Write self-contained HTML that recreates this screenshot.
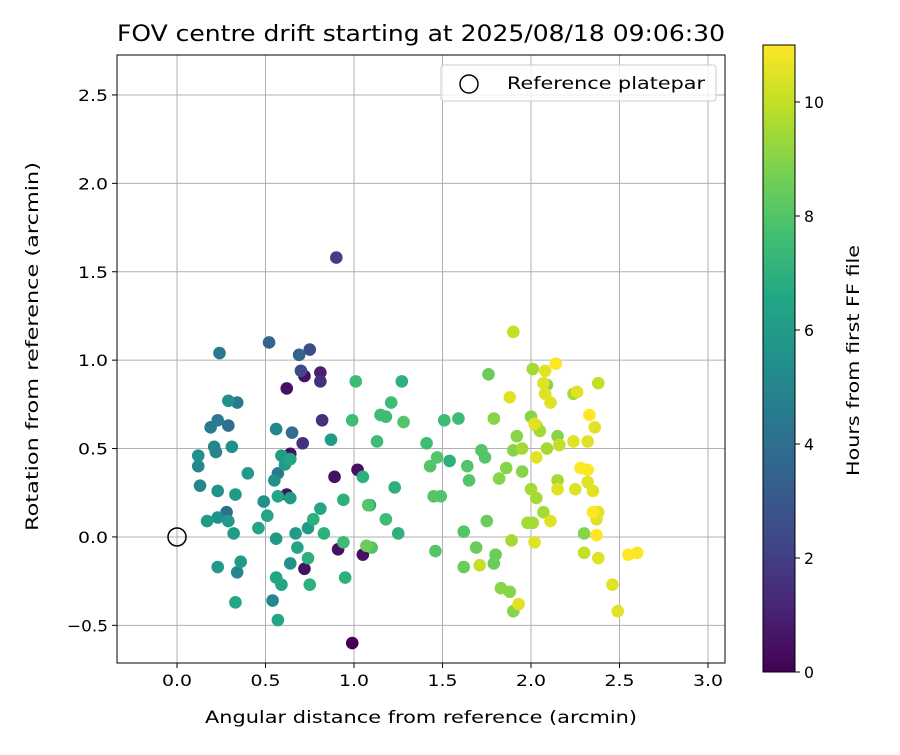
<!DOCTYPE html>
<html><head><meta charset="utf-8"><style>
body{margin:0;background:#fff;}
svg text{font-family:"DejaVu Sans","Liberation Sans",sans-serif;fill:#000;}
</style></head><body>
<svg id="chart" width="900" height="750" viewBox="0 0 900 750">
<defs>
<linearGradient id="vir" x1="0" y1="1" x2="0" y2="0">
<stop offset="0" stop-color="#440154"/><stop offset="0.1" stop-color="#482475"/><stop offset="0.2" stop-color="#414487"/><stop offset="0.3" stop-color="#355f8d"/><stop offset="0.4" stop-color="#2a788e"/><stop offset="0.5" stop-color="#21918c"/><stop offset="0.6" stop-color="#22a884"/><stop offset="0.7" stop-color="#44bf70"/><stop offset="0.8" stop-color="#7ad151"/><stop offset="0.9" stop-color="#bddf26"/><stop offset="1" stop-color="#fde725"/>
</linearGradient>
<clipPath id="pc"><rect x="117" y="55" width="608" height="608"/></clipPath>
</defs>
<text x="117" y="41" font-size="22" textLength="608" lengthAdjust="spacingAndGlyphs">FOV centre drift starting at 2025/08/18 09:06:30</text>
<g id="grid"></g>
<g id="pts" clip-path="url(#pc)"></g>
<rect x="117" y="55" width="608" height="608" fill="none" stroke="#000" stroke-width="1"/>
<g id="ticks"></g>
<text x="205" y="723" font-size="17" textLength="432" lengthAdjust="spacingAndGlyphs">Angular distance from reference (arcmin)</text>
<text transform="translate(38,531) rotate(-90)" font-size="17" textLength="369" lengthAdjust="spacingAndGlyphs">Rotation from reference (arcmin)</text>
<g>
<rect x="441" y="65" width="275" height="36" rx="3" fill="#fff" fill-opacity="0.8" stroke="#ccc"/>
<circle cx="469" cy="84" r="9" fill="none" stroke="#000" stroke-width="1.5"/>
<text x="507" y="89" font-size="17" textLength="198" lengthAdjust="spacingAndGlyphs">Reference platepar</text>
</g>
<rect x="763" y="45" width="32" height="627" fill="url(#vir)" stroke="#000" stroke-width="1"/>
<g id="cticks"></g>
<text transform="translate(859,476) rotate(-90)" font-size="17" textLength="231" lengthAdjust="spacingAndGlyphs">Hours from first FF file</text>
</svg>
<script>
const xVals=[0.90,0.52,0.24,0.69,0.75,0.70,0.72,0.81,0.81,0.62,1.01,0.29,0.34,0.23,0.19,0.29,0.56,0.65,0.82,0.99,0.71,0.87,1.13,1.15,
0.89,1.02,1.05,0.94,1.08,0.94,1.07,0.95,0.81,0.77,0.83,0.74,0.67,0.56,0.46,0.51,0.49,0.57,0.64,0.62,0.55,0.57,0.61,0.64,0.59,0.64,0.40,0.33,0.23,0.13,0.12,0.12,0.21,0.22,0.31,0.28,0.29,0.23,0.17,0.32,0.23,0.36,0.34,0.33,0.64,0.68,0.74,0.72,0.56,0.59,0.75,0.54,0.57,0.99,0.91,1.05,
1.90,1.27,1.76,2.01,1.21,1.18,1.28,1.51,1.59,1.79,1.88,1.41,1.47,1.43,1.54,1.72,1.74,1.64,1.65,1.86,1.82,1.95,1.92,1.90,1.95,2.00,2.02,1.23,1.09,1.18,1.25,1.45,1.49,1.10,1.46,1.62,1.75,1.69,1.62,1.71,1.80,1.79,1.83,1.88,1.93,1.90,2.00,2.03,1.98,2.01,1.89,2.02,
2.08,2.14,2.07,2.09,2.08,2.11,2.24,2.26,2.38,2.03,2.05,2.33,2.36,2.15,2.16,2.09,2.24,2.32,2.03,2.28,2.32,2.15,2.15,2.25,2.32,2.35,2.07,2.11,2.35,2.38,2.37,2.30,2.37,2.30,2.38,2.55,2.60,2.46,2.49];
const yVals=[1.58,1.10,1.04,1.03,1.06,0.94,0.91,0.93,0.88,0.84,0.88,0.77,0.76,0.66,0.62,0.63,0.61,0.59,0.66,0.66,0.53,0.55,0.54,0.69,
0.34,0.38,0.34,0.21,0.18,-0.03,-0.05,-0.23,0.16,0.10,0.02,0.05,0.02,-0.01,0.05,0.12,0.20,0.23,0.22,0.24,0.32,0.36,0.41,0.44,0.46,0.47,0.36,0.24,0.26,0.29,0.40,0.46,0.51,0.48,0.51,0.14,0.09,0.11,0.09,0.02,-0.17,-0.14,-0.20,-0.37,-0.15,-0.06,-0.12,-0.18,-0.23,-0.27,-0.27,-0.36,-0.47,-0.60,-0.07,-0.10,
1.16,0.88,0.92,0.95,0.76,0.68,0.65,0.66,0.67,0.67,0.79,0.53,0.45,0.40,0.43,0.49,0.45,0.40,0.32,0.39,0.33,0.37,0.57,0.49,0.50,0.68,0.64,0.28,0.18,0.10,0.02,0.23,0.23,-0.06,-0.08,0.03,0.09,-0.06,-0.17,-0.16,-0.10,-0.15,-0.29,-0.31,-0.38,-0.42,0.27,0.22,0.08,0.08,-0.02,-0.03,
0.94,0.98,0.87,0.86,0.81,0.76,0.81,0.82,0.87,0.63,0.60,0.69,0.62,0.57,0.52,0.50,0.54,0.54,0.45,0.39,0.38,0.32,0.27,0.27,0.31,0.26,0.14,0.09,0.14,0.14,0.10,0.02,0.01,-0.09,-0.12,-0.10,-0.09,-0.27,-0.42];
const hours=[2,3.5,4.5,3.5,2.5,2.5,0.5,1,1.5,0.5,7.5,5.5,4.5,4.5,4.5,4,5,4,1.5,7.5,1.5,6,7.5,7.5,
0.5,0.5,7,7,8,7.5,8.5,7,6.5,7,7,6,6,6,6.5,6.5,5.5,6.5,6,0.5,5.5,4.5,6,6.5,6,0.5,6,6,5.5,5,5,5.5,5,5,5.5,4,6,5.5,6,6,6,6,5,6.5,5.5,6.5,7,0.5,6.5,6.5,7,5,6.5,0,0.5,0.5,
10,7,8.5,9.5,7.5,7.5,8,7.5,7.5,9,10.5,7.5,8,8,7,8,8,8,8,9,9,9,9,9,9.5,9,10.5,7,6.5,7.5,7,8,8,8,8,8,8.5,8.5,8.5,10,8.5,8.5,9,9,10.5,9,9.5,9.5,9.5,9.5,9.5,10.5,
10.5,11,10.5,9,10.5,10.5,9.5,10.5,10,9.5,9.5,11,10.5,9,10,9.5,10.5,10.5,10.5,11,11,9.5,10.5,10.5,10.5,10.5,9.5,10.5,11,10.5,10.5,9,11,10,10.5,11,11,10.5,10.5];
const xTicks=[0.0,0.5,1.0,1.5,2.0,2.5,3.0];
const yTicks=[-0.5,0.0,0.5,1.0,1.5,2.0,2.5];
const cTicks=[0,2,4,6,8,10];

const NS='http://www.w3.org/2000/svg';
const X0=117,X1=725,Y0=663,Y1=55,xmin=-0.339,xmax=3.096,ymin=-0.713,ymax=2.726;
const sx=v=>X0+(v-xmin)/(xmax-xmin)*(X1-X0);
const sy=v=>Y0-(v-ymin)/(ymax-ymin)*(Y0-Y1);
const sc=h=>672-h/11*627;
const vir=[[68,1,84],[72,36,117],[65,68,135],[53,95,141],[42,120,142],[33,145,140],[34,168,132],[68,191,112],[122,209,81],[189,223,38],[253,231,37]];
function col(h){let t=Math.max(0,Math.min(1,h/11))*10;let i=Math.min(9,Math.floor(t)),f=t-i;
 const a=vir[i],b=vir[i+1];return 'rgb('+a.map((c,k)=>Math.round(c+(b[k]-c)*f)).join(',')+')';}
function mk(tag,attrs,parent){const e=document.createElementNS(NS,tag);for(const k in attrs)e.setAttribute(k,attrs[k]);parent.appendChild(e);return e;}
const grid=document.getElementById('grid'),ticks=document.getElementById('ticks'),pts=document.getElementById('pts'),ct=document.getElementById('cticks');
xTicks.forEach(v=>{const x=sx(v);
 const g=mk('line',{x1:x,x2:x,y1:Y1,y2:Y0,stroke:'#b0b0b0','stroke-width':1},grid);
 
 
 mk('line',{x1:x,x2:x,y1:Y0,y2:Y0+5,stroke:'#000'},ticks);
 const t=mk('text',{x:x-15,y:Y0+23,'font-size':16,textLength:30,lengthAdjust:'spacingAndGlyphs'},ticks);t.textContent=v.toFixed(1);
 
 });
yTicks.forEach(v=>{const y=sy(v);
 const g=mk('line',{x1:X0,x2:X1,y1:y,y2:y,stroke:'#b0b0b0','stroke-width':1},grid);
 
 
 mk('line',{x1:X0-5,x2:X0,y1:y,y2:y,stroke:'#000'},ticks);
 const w=v<0?41:30;
 const t=mk('text',{x:X0-9-w,y:y+6,'font-size':16,textLength:w,lengthAdjust:'spacingAndGlyphs'},ticks);t.textContent=v<0?'\u2212'+Math.abs(v).toFixed(1):v.toFixed(1);
 
 });
cTicks.forEach(v=>{const y=sc(v);
 mk('line',{x1:795,x2:800,y1:y,y2:y,stroke:'#000'},ct);
 const s=String(v);
 const t=mk('text',{x:804,y:y+6,'font-size':16,textLength:s.length*10,lengthAdjust:'spacingAndGlyphs'},ct);t.textContent=s;
 
 });
const order=hours.map((h,i)=>i).sort((a,b)=>hours[a]-hours[b]);
order.forEach(i=>{
 const c=mk('circle',{cx:sx(xVals[i]),cy:sy(yVals[i]),r:6.3,fill:col(hours[i])},pts);
 
 });
const r=mk('circle',{cx:sx(0),cy:sy(0),r:9,fill:'none',stroke:'#000','stroke-width':1.5},pts);


</script>
</body></html>
